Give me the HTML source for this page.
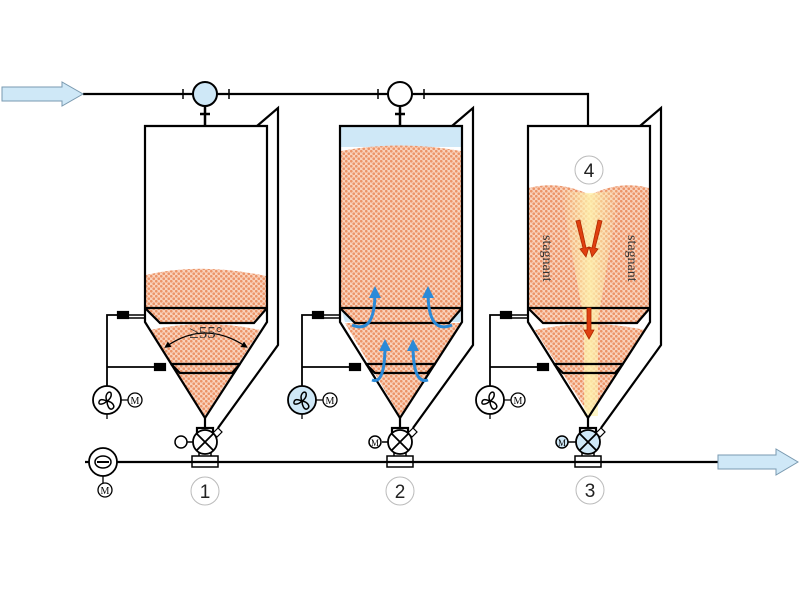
<!DOCTYPE html>
<html><head><meta charset="utf-8"><style>html,body{margin:0;padding:0;background:#fff}svg{display:block}</style></head>
<body>
<svg width="800" height="600" viewBox="0 0 800 600" xmlns="http://www.w3.org/2000/svg" font-family="Liberation Sans, sans-serif">
<defs>
<pattern id="sand" width="5" height="5" patternUnits="userSpaceOnUse">
<rect width="5" height="5" fill="#f9d2bc"/>
<circle cx="1.25" cy="1.25" r="1.35" fill="#ec9468"/>
<circle cx="3.75" cy="3.75" r="1.35" fill="#ec9468"/>
</pattern>
<linearGradient id="beam" x1="0" x2="1" y1="0" y2="0">
<stop offset="0" stop-color="#fff3b0" stop-opacity="0"/>
<stop offset="0.5" stop-color="#fff3b0" stop-opacity="0.85"/>
<stop offset="1" stop-color="#fff3b0" stop-opacity="0"/>
</linearGradient>
<marker id="ba" viewBox="0 0 10 10" refX="5" refY="5" markerWidth="4" markerHeight="4" orient="auto"><path d="M0,0L10,5L0,10z" fill="#2a8ad8"/></marker>
<marker id="ka" viewBox="0 0 10 10" refX="5" refY="5" markerWidth="5" markerHeight="5" orient="auto-start-reverse"><path d="M0,0L10,5L0,10z" fill="#000"/></marker>
<g id="outline" fill="none" stroke="#000" stroke-width="2.2">
<path d="M145,126 H267 V322 L205,418 L145,322 Z"/>
<path d="M145,308 H267 M145,308 L160,323 H254 L267,308"/>
<path d="M171,364 H240 M171,364 L180,373 H232 L240,364"/>
<path d="M257,126 L278,108 V345 L218,428"/>
<path d="M205,418 V428"/>
<rect x="197" y="428" width="16" height="6" fill="#fff"/>
<rect x="192" y="456" width="26" height="11" fill="#fff" stroke-width="1.5"/>
<path d="M199,452 V456 M211,452 V456" stroke-width="1.5"/>
<path d="M118,315 H145 M118,318 H145" stroke-width="1.5"/>
<path d="M107,386 V315 H120 M107,367 H165" stroke-width="1.8"/>
<rect x="118" y="312" width="10" height="6" fill="#000"/>
<rect x="155" y="364" width="10" height="6" fill="#000"/>
<path d="M213,433 l5,-5 l4,4 l-5,5z" fill="#fff" stroke-width="1.2"/>
</g>
<g id="fanic" fill="none" stroke="#000" stroke-width="1.5">
<path d="M0,0 C-3,-6 2,-11 4,-8 C5,-4 2,-1 0,0 Z M0,0 C6,1 9,6 5,8 C2,9 0,4 0,0 Z M0,0 C-4,4 -9,4 -8,1 C-7,-3 -3,-1 0,0 Z"/>
</g>
</defs>
<path d="M146,275 Q200,262 266,276 V308 H146 Z" fill="url(#sand)"/>
<path d="M146,308 H266 L254,322 H160 Z" fill="url(#sand)"/>
<path d="M150,330 Q205,318 260,330 L205,416 Z" fill="url(#sand)"/>
<rect x="340" y="127" width="122" height="20" fill="#cfe8f7"/>
<path d="M341,151 Q400,140 461,151 V308 H341 Z" fill="url(#sand)"/>
<path d="M341,308 H461 L449,322 H355 Z" fill="url(#sand)"/>
<path d="M341,308 L355,322 L345,322 Z M461,308 L449,322 L460,322Z" fill="#cfe8f7"/>
<path d="M345,323 H461 L400,416 Z" fill="url(#sand)"/>
<path d="M528,188 Q560,180 590,195 Q620,180 649,188 V308 H528 Z" fill="url(#sand)"/>
<path d="M528,308 H649 L637,322 H543 Z" fill="url(#sand)"/>
<path d="M535,330 Q590,318 645,330 L590,416 Z" fill="url(#sand)"/>
<path d="M560,188 Q590,198 620,188 L598,320 V416 H584 V320 Z" fill="url(#beam)"/>
<use href="#outline"/>
<use href="#outline" transform="translate(195,0)"/>
<use href="#outline" transform="translate(383,0)"/>
<path d="M83,94 H588 V126" fill="none" stroke="#000" stroke-width="2.2"/>
<path d="M205,106 V126 M400,106 V126" stroke="#000" stroke-width="2.5"/>
<path d="M200,114 H210 M395,114 H405" stroke="#000" stroke-width="2.5"/>
<path d="M183,89 V99 M229,89 V99 M378,89 V99 M424,89 V99" stroke="#000" stroke-width="1.5"/>
<circle cx="205" cy="94" r="12" fill="#cfe8f7" stroke="#000" stroke-width="2"/>
<circle cx="400" cy="94" r="12" fill="#fff" stroke="#000" stroke-width="2"/>
<path d="M2,87 H62 V82 L83,94 L62,106 V101 H2 Z" fill="#cfe8f7" stroke="#7a9ab0" stroke-width="1"/>
<path d="M85,462 H718" stroke="#000" stroke-width="2.2"/>
<path d="M718,455 H776 V449 L798,462 L776,475 V469 H718 Z" fill="#cfe8f7" stroke="#7a9ab0" stroke-width="1"/>
<g stroke="#000" stroke-width="1.8">
<circle cx="205" cy="442" r="12" fill="#fff"/>
<path d="M197,434 L213,450 M213,434 L197,450"/>
<circle cx="400" cy="442" r="12" fill="#fff"/>
<path d="M392,434 L408,450 M408,434 L392,450"/>
<circle cx="588" cy="442" r="12" fill="#cfe8f7"/>
<path d="M580,434 L596,450 M596,434 L580,450"/>
<path d="M187,442 H193 M382,442 H388 M568,442 H576" stroke-width="1.5"/>
</g>
<circle cx="181" cy="442" r="6" fill="#fff" stroke="#000" stroke-width="1.5"/>
<circle cx="375" cy="442" r="6" fill="#fff" stroke="#000" stroke-width="1.5"/>
<text x="375" y="446" font-size="9" text-anchor="middle" font-family="Liberation Serif,serif">M</text>
<circle cx="562" cy="442" r="6" fill="#cfe8f7" stroke="#000" stroke-width="1.5"/>
<text x="562" y="446" font-size="9" text-anchor="middle" font-family="Liberation Serif,serif">M</text>
<g stroke="#000" stroke-width="1.8">
<circle cx="107" cy="400" r="14" fill="#fff"/>
<circle cx="302" cy="400" r="14" fill="#cfe8f7"/>
<circle cx="490" cy="400" r="14" fill="#fff"/>
<path d="M121,400 H129 M316,400 H324 M504,400 H512 M107,414 V419 M302,414 V419 M490,414 V419" stroke-width="1.3"/>
</g>
<use href="#fanic" transform="translate(107,401)"/>
<use href="#fanic" transform="translate(302,401)"/>
<use href="#fanic" transform="translate(490,401)"/>
<g fill="#fff" stroke="#000" stroke-width="1.3">
<circle cx="135" cy="400" r="7"/><circle cx="330" cy="400" r="7"/><circle cx="518" cy="400" r="7"/>
</g>
<g font-size="10" text-anchor="middle" font-family="Liberation Serif,serif">
<text x="135" y="404">M</text><text x="330" y="404">M</text><text x="518" y="404">M</text>
</g>
<circle cx="103" cy="462" r="14" fill="#fff" stroke="#000" stroke-width="1.8"/>
<ellipse cx="103" cy="462" rx="8" ry="6" fill="none" stroke="#000" stroke-width="1.5"/>
<path d="M97,462 H109" stroke="#000" stroke-width="2"/>
<path d="M85,462 H89 M103,476 V484" stroke="#000" stroke-width="1.3"/>
<circle cx="105" cy="490" r="7" fill="#fff" stroke="#000" stroke-width="1.3"/>
<text x="105" y="494" font-size="10" text-anchor="middle" font-family="Liberation Serif,serif">M</text>
<path d="M167,346 Q205,320 245,346" fill="none" stroke="#000" stroke-width="1.3" marker-start="url(#ka)" marker-end="url(#ka)"/>
<text x="206" y="338" font-size="17" text-anchor="middle" fill="#333" font-family="Liberation Serif,serif">≥55°</text>
<g fill="none" stroke="#2a8ad8" stroke-width="3" marker-end="url(#ba)">
<path d="M352,325 Q375,335 375,292"/>
<path d="M452,325 Q428,335 428,292"/>
<path d="M372,380 Q385,385 385,345"/>
<path d="M428,380 Q413,385 413,345"/>
</g>
<g fill="#e04010" stroke="#b02800" stroke-width="0.8">
<path d="M576,221 l4,-1 l6,28 l3,-1 l-3,10 l-6,-8 l3,-1 z"/>
<path d="M602,221 l-4,-1 l-6,28 l-3,-1 l3,10 l6,-8 l-3,-1 z"/>
<path d="M587,308 h4 v22 h3 l-5,9 l-5,-9 h3 z"/>
</g>
<g font-size="14" fill="#333" font-family="Liberation Serif,serif">
<text transform="translate(543,235) rotate(90)">stagnant</text>
<text transform="translate(628,235) rotate(90)">stagnant</text>
</g>
<g fill="#fff" stroke="#bbb" stroke-width="1">
<circle cx="589" cy="170" r="14"/>
<circle cx="205" cy="491" r="14"/><circle cx="400" cy="491" r="14"/><circle cx="590" cy="490" r="14"/>
</g>
<g font-size="19" text-anchor="middle" fill="#222">
<text x="589" y="177">4</text><text x="205" y="498">1</text><text x="400" y="498">2</text><text x="590" y="497">3</text>
</g>
</svg>
</body></html>
